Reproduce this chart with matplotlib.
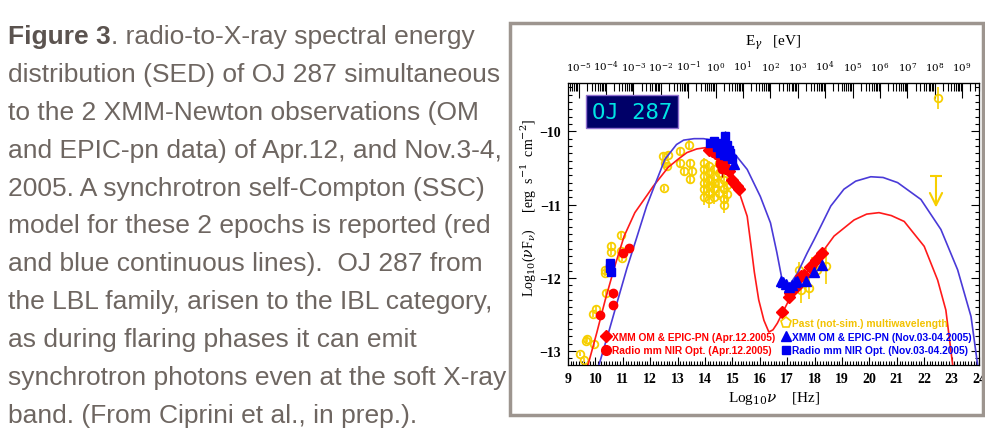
import numpy as np
import matplotlib
matplotlib.use('Agg')
import matplotlib.pyplot as plt
from matplotlib import font_manager
from matplotlib.lines import Line2D
from matplotlib.patches import Rectangle
from matplotlib.ticker import MultipleLocator, FixedLocator


def pick_font(*names):
    for n in names:
        try:
            font_manager.findfont(font_manager.FontProperties(family=n), fallback_to_default=False)
            return n
        except ValueError:
            pass
    return 'DejaVu Sans'


cap_font = pick_font('Liberation Sans Narrow', 'Liberation Sans')
narrow = cap_font == 'Liberation Sans Narrow'
cap_size = 20 if narrow else 19
leg_size = 8.5 if narrow else 7.4
plt.rcParams['mathtext.fontset'] = 'dejavuserif'

# ---- SSC model curves (log nu [Hz], log nuFnu) ----
red_model_x = [9.73, 10.05, 10.36, 10.70, 11.05, 11.44, 11.89, 12.11, 12.66, 13.02, 13.34, 13.70,
               14.07, 14.50, 14.85, 15.20, 15.54, 15.70, 15.80, 15.96, 16.15, 16.33, 16.48, 16.64,
               16.88, 17.12, 17.49, 17.98, 18.22, 18.71, 19.44, 19.90, 20.35, 20.80, 21.27, 22.00,
               22.49, 22.79, 23.04]
red_model_y = [-13.19, -12.75, -12.30, -11.85, -11.43, -11.11, -10.87, -10.75, -10.49, -10.38, -10.29, -10.24,
               -10.22, -10.28, -10.42, -10.78, -11.16, -11.62, -11.92, -12.30, -12.58, -12.74, -12.71, -12.62,
               -12.44, -12.26, -12.03, -11.80, -11.68, -11.43, -11.21, -11.13, -11.11, -11.15, -11.23, -11.57,
               -12.03, -12.44, -13.19]

blue_model_x = [10.13, 10.50, 10.82, 11.15, 11.50, 11.87, 12.17, 12.54, 12.96, 13.22, 13.60, 13.95,
                14.40, 14.80, 15.11, 15.54, 16.02, 16.39, 16.62, 16.80, 16.90, 17.00, 17.15, 17.37,
                17.73, 17.98, 18.22, 18.59, 19.07, 19.50, 20.05, 20.50, 21.03, 21.88, 22.61, 23.22,
                23.71, 23.95]
blue_model_y = [-13.19, -12.72, -12.30, -11.87, -11.46, -11.02, -10.73, -10.38, -10.18, -10.12, -10.10, -10.10,
                -10.13, -10.22, -10.32, -10.52, -10.89, -11.25, -11.65, -12.00, -12.09, -12.12, -12.06, -11.94,
                -11.66, -11.48, -11.30, -11.02, -10.79, -10.68, -10.62, -10.63, -10.70, -10.93, -11.34, -11.89,
                -12.53, -13.19]

# ---- past (not simultaneous) multiwavelength data ----
past_x = [9.43, 9.59, 9.67, 9.71, 9.94, 9.91, 10.02, 10.34, 10.34, 10.37, 10.58, 10.58, 10.95, 10.95, 10.98,
          12.49, 12.48, 12.54, 12.60, 12.66, 13.10, 13.10, 13.22, 13.40, 13.46, 13.52, 13.46,
          13.95, 13.95, 13.95, 13.95, 13.95, 13.95, 14.13, 14.13, 14.13, 14.13, 14.13, 14.13,
          14.32, 14.32, 14.32, 14.32, 14.32, 14.50, 14.50, 14.50, 14.50, 14.68, 14.68, 14.68, 14.68,
          14.81, 14.81, 14.81,
          17.43, 17.49, 17.79, 17.91, 18.10, 18.40, 22.49]
past_y = [-13.04, -13.12, -12.86, -12.83, -12.91, -12.50, -12.43, -11.89, -11.94, -12.21, -11.57, -11.65, -11.41, -11.64, -11.73,
          -10.78, -10.34, -10.43, -10.47, -10.32, -10.27, -10.43, -10.54, -10.18, -10.43, -10.54, -10.65,
          -10.43, -10.52, -10.61, -10.70, -10.79, -10.89, -10.47, -10.57, -10.66, -10.75, -10.84, -10.93,
          -10.52, -10.61, -10.70, -10.79, -10.89, -10.43, -10.57, -10.70, -10.84, -10.66, -10.79, -10.93, -11.00,
          -10.52, -10.73, -10.86,
          -11.89, -12.16, -12.14, -11.84, -11.89, -11.84, -9.54]
past_err = [0.03, 0.03, 0.04, 0.04, 0.03, 0.04, 0.04, 0.04, 0.04, 0.04, 0.05, 0.04, 0.05, 0.04, 0.04,
            0.04, 0.05, 0.05, 0.05, 0.05, 0.05, 0.05, 0.06, 0.06, 0.05, 0.06, 0.06,
            0.06, 0.06, 0.08, 0.08, 0.10, 0.12, 0.06, 0.06, 0.08, 0.10, 0.10, 0.12,
            0.06, 0.08, 0.08, 0.10, 0.10, 0.06, 0.08, 0.10, 0.10, 0.08, 0.10, 0.12, 0.12,
            0.08, 0.10, 0.10,
            0.10, 0.18, 0.15, 0.12, 0.10, 0.25, 0.15]
uplim_x = 22.43
uplim_top = -10.61
uplim_tip = -11.04

# ---- Apr.12.2005 ----
apr_xmm_x = [14.13, 14.26, 14.38, 14.50, 14.62, 14.74, 14.87, 14.99, 15.05, 15.17, 15.23,
             16.82, 17.06, 17.12, 17.31, 17.49, 17.61, 17.85, 18.04, 18.28]
apr_xmm_y = [-10.25, -10.27, -10.29, -10.34, -10.41, -10.50, -10.54, -10.66, -10.70, -10.75, -10.79,
             -12.46, -12.26, -12.21, -12.12, -11.98, -11.96, -11.85, -11.75, -11.66]
apr_radio_x = [10.17, 10.65, 10.65, 11.02, 11.21, 14.55, 14.62, 14.70]
apr_radio_y = [-12.51, -12.21, -12.37, -11.66, -11.59, -10.45, -10.52, -10.47]
apr_radio_err = [0.03, 0.06, 0.06, 0.03, 0.03, 0.10, 0.10, 0.10]

# ---- Nov.03-04.2005 ----
nov_xmm_x = [15.05, 16.76, 16.85, 16.94, 17.06, 17.18, 17.30, 17.37, 17.67, 17.98, 18.28]
nov_xmm_y = [-10.45, -12.05, -12.06, -12.08, -12.12, -12.10, -12.06, -12.04, -12.05, -11.92, -11.82]
nov_radio_x = [10.53, 10.55, 10.57, 14.20, 14.32, 14.44, 14.56, 14.68, 14.81, 14.87, 14.93, 14.74,
               14.56, 14.68, 14.81, 14.99, 14.44]
nov_radio_y = [-11.80, -11.86, -11.92, -10.16, -10.13, -10.16, -10.18, -10.20, -10.18, -10.25, -10.29, -10.06,
               -10.29, -10.32, -10.34, -10.38, -10.22]
nov_radio_err = [0.04, 0.04, 0.04, 0.02, 0.02, 0.02, 0.02, 0.02, 0.02, 0.02, 0.02, 0.06,
                 0.03, 0.03, 0.03, 0.03, 0.02]

caption = ["distribution (SED) of OJ 287 simultaneous",
           "to the 2 XMM-Newton observations (OM",
           "and EPIC-pn data) of Apr.12, and Nov.3-4,",
           "2005. A synchrotron self-Compton (SSC)",
           "model for these 2 epochs is reported (red",
           "and blue continuous lines).  OJ 287 from",
           "the LBL family, arisen to the IBL category,",
           "as during flaring phases it can emit",
           "synchrotron photons even at the soft X-ray",
           "band. (From Ciprini et al., in prep.)."]

YEL = '#f7cf00'
RED = '#ff0000'
BLUE = '#0000f0'
H_EV = 14.3834  # -log10(h [eV s])

W, Hpx = 985, 431
fig = plt.figure(figsize=(W / 100, Hpx / 100), dpi=100)
ax = fig.add_axes([568 / W, 1 - 366 / Hpx, (979 - 568) / W, (366 - 84) / Hpx])

# caption on the left
cap_col = '#6e6661'
t1 = fig.text(8 / W, 1 - 44 / Hpx, 'Figure 3', fontsize=cap_size, weight='bold', family=cap_font,
              color='#5b534f', va='baseline')
ax.annotate('. radio-to-X-ray spectral energy', xy=(1, 0), xycoords=t1, va='bottom', ha='left',
            fontsize=cap_size, family=cap_font, color=cap_col, annotation_clip=False)
for i, line in enumerate(caption):
    fig.text(8 / W, 1 - (44 + 37.9 * (i + 1)) / Hpx, line, fontsize=cap_size, family=cap_font,
             color=cap_col, va='baseline')

# chart frame
fig.patches.append(Rectangle((510 / W, 1 - 416 / Hpx), (983 - 510) / W, (416 - 24) / Hpx,
                             transform=fig.transFigure, fill=False, ec='#9d958f', lw=2.5))

# data
ax.errorbar(past_x, past_y, yerr=past_err, fmt='o', ms=5.5, mfc='none', mec=YEL, mew=1.3,
            ecolor=YEL, elinewidth=1.2, capsize=0, zorder=2)
ax.plot([uplim_x], [uplim_top], marker='_', ms=9, mew=1.5, color=YEL, zorder=2)
ax.annotate('', xy=(uplim_x, uplim_tip), xytext=(uplim_x, uplim_top),
            arrowprops=dict(arrowstyle='->', color=YEL, lw=1.5, mutation_scale=22,
                            shrinkA=0, shrinkB=0), zorder=2)

ax.plot(red_model_x, red_model_y, color='#ff1a1a', lw=1.2, zorder=3)
ax.plot(blue_model_x, blue_model_y, color='#4a3ad8', lw=1.2, zorder=3)

ax.errorbar(apr_radio_x, apr_radio_y, yerr=apr_radio_err, fmt='o', ms=6, color=RED,
            ecolor='#b00000', elinewidth=1.0, capsize=0, zorder=4)
ax.plot(apr_xmm_x, apr_xmm_y, 'D', ms=6.5, color=RED, ls='none', zorder=4)
ax.errorbar(nov_radio_x, nov_radio_y, yerr=nov_radio_err, fmt='s', ms=6, color=BLUE,
            ecolor='#000090', elinewidth=1.0, capsize=0, zorder=5)
ax.plot(nov_xmm_x, nov_xmm_y, '^', ms=7, color=BLUE, ls='none', zorder=5)

# source label box
ax.add_patch(Rectangle((0.044, 0.840), 0.224, 0.117, transform=ax.transAxes,
                       fc='#000068', ec='#9070d0', lw=1.0, zorder=6))
ax.text(0.156, 0.898, 'OJ 287', transform=ax.transAxes, ha='center', va='center',
        fontsize=16, family='DejaVu Sans Mono', color='#00e4e4', zorder=7)

# legend
handles = [Line2D([], [], ls='none'),
           Line2D([], [], marker='D', ls='none', color=RED, ms=6),
           Line2D([], [], marker='o', ls='none', color=RED, ms=7),
           Line2D([], [], marker='p', ls='none', mfc='none', mec=YEL, mew=1.2, ms=8),
           Line2D([], [], marker='^', ls='none', color=BLUE, ms=7),
           Line2D([], [], marker='s', ls='none', color=BLUE, ms=6)]
labels = ['', 'XMM OM & EPIC-PN (Apr.12.2005)', 'Radio mm NIR Opt. (Apr.12.2005)',
          'Past (not-sim.) multiwavelength', 'XMM OM & EPIC-PN (Nov.03-04.2005)',
          'Radio mm NIR Opt. (Nov.03-04.2005)']
leg_cols = [RED, RED, RED, '#f2c200', BLUE, BLUE]
leg = ax.legend(handles, labels, ncol=2, loc='lower left', bbox_to_anchor=(0.078, 0.027),
                frameon=False, handlelength=0.8, handletextpad=0.15, columnspacing=0.7,
                labelspacing=0.35, borderpad=0.2, borderaxespad=0.0,
                prop=dict(family=cap_font, size=leg_size, weight='bold'))
for txt, c in zip(leg.get_texts(), leg_cols):
    txt.set_color(c)
leg.set_zorder(8)

# axes
ax.set_xlim(9, 24)
ax.set_ylim(-13.19, -9.34)
ax.xaxis.set_major_locator(MultipleLocator(1))
ax.xaxis.set_minor_locator(MultipleLocator(0.1))
ax.yaxis.set_major_locator(MultipleLocator(1))
ax.yaxis.set_minor_locator(MultipleLocator(0.1))
ax.tick_params(which='both', direction='in', top=False, right=True, width=0.8, colors='black')
ax.tick_params(which='major', length=6)
ax.tick_params(which='minor', length=3)
ax.tick_params(labelsize=10, pad=5)
for lab in ax.get_xticklabels() + ax.get_yticklabels():
    lab.set_family('Liberation Serif')
    lab.set_weight('bold')
ax.set_yticks([-13, -12, -11, -10])
ax.set_yticklabels(['\u221213', '\u221212', '\u221211', '\u221210'], family='Liberation Serif',
                   weight='bold', fontsize=10)
ax.set_xlabel(r'Log$_{10}\nu$    [Hz]', family='Liberation Serif', fontsize=11, labelpad=3)
fig.text(528 / W, 1 - 208 / Hpx, r'Log$_{10}$($\nu$F$_\nu$)     [erg  s$^{-1}$  cm$^{-2}$]',
         rotation=90, ha='center', va='center', family='Liberation Serif', fontsize=10)
for s in ax.spines.values():
    s.set_linewidth(0.9)

sec = ax.secondary_xaxis('top', functions=(lambda x: x - H_EV, lambda e: e + H_EV))
decades = list(range(-5, 10))
sec.xaxis.set_major_locator(FixedLocator(decades))
sec.xaxis.set_minor_locator(FixedLocator([n + np.log10(k) for n in range(-6, 10) for k in range(2, 10)]))
sec.set_xticklabels([r'$10^{%d}$' % n for n in decades], fontsize=7.5)
sec.tick_params(which='both', direction='in', width=0.8)
sec.tick_params(which='major', length=11, pad=7)
sec.tick_params(which='minor', length=6)
sec.set_xlabel(r'E$_\gamma$   [eV]', family='Liberation Serif', fontsize=11, labelpad=10)

fig.savefig('out.png', dpi=100)
